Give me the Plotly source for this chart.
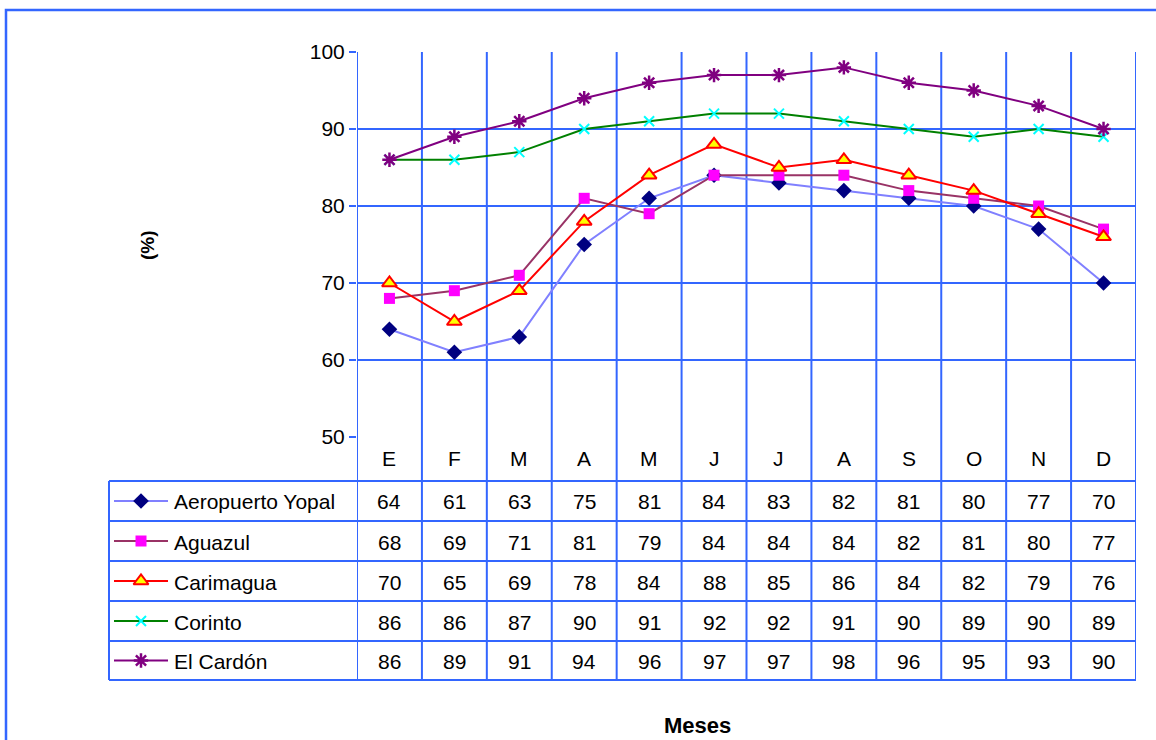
import plotly.graph_objects as go

# Monthly relative humidity (%) by station
months = ["E", "F", "M", "A", "M", "J", "J", "A", "S", "O", "N", "D"]
aeropuerto_yopal = [64, 61, 63, 75, 81, 84, 83, 82, 81, 80, 77, 70]
aguazul = [68, 69, 71, 81, 79, 84, 84, 84, 82, 81, 80, 77]
carimagua = [70, 65, 69, 78, 84, 88, 85, 86, 84, 82, 79, 76]
corinto = [86, 86, 87, 90, 91, 92, 92, 91, 90, 89, 90, 89]
el_cardon = [86, 89, 91, 94, 96, 97, 97, 98, 96, 95, 93, 90]

station_names = ["Aeropuerto Yopal", "Aguazul", "Carimagua", "Corinto", "El Cardón"]
station_values = [aeropuerto_yopal, aguazul, carimagua, corinto, el_cardon]

W, H = 1156, 740
BLUE = "#3366FF"
FONT = "Liberation Sans, Arial, sans-serif"

# layout geometry in pixels
PLOT_L, PLOT_R, PLOT_T, PLOT_B = 357, 1136, 52, 437
TABLE_L = 109
ROW_LINES = [481, 521, 561, 601, 641, 680]


def px(x):
    return x / W


def py(y):
    return 1 - y / H


styles = [
    dict(line=dict(color="#8080FF", width=2),
         marker=dict(symbol="diamond", size=12, color="#000080",
                     line=dict(color="#000080", width=0))),
    dict(line=dict(color="#993366", width=2),
         marker=dict(symbol="square", size=11, color="#FF00FF",
                     line=dict(color="#FF00FF", width=0))),
    dict(line=dict(color="#FF0000", width=2),
         marker=dict(symbol="triangle-up", size=13, color="#FFFF00",
                     line=dict(color="#FF0000", width=2))),
    dict(line=dict(color="#008000", width=2),
         marker=dict(symbol="x-thin-open", size=10, color="#00FFFF",
                     line=dict(color="#00FFFF", width=2))),
    dict(line=dict(color="#800080", width=2),
         marker=dict(symbol="asterisk-open", size=12, color="#800080",
                     line=dict(color="#800080", width=2.5))),
]

fig = go.Figure()

xs = list(range(len(months)))
for name, vals, st in zip(station_names, station_values, styles):
    fig.add_trace(go.Scatter(x=xs, y=vals, mode="lines+markers", name=name,
                             line=st["line"], marker=st["marker"],
                             showlegend=False, xaxis="x", yaxis="y"))

# legend keys inside the data table (pixel overlay axes)
for i, (name, st) in enumerate(zip(station_names, styles)):
    yc = (ROW_LINES[i] + ROW_LINES[i + 1]) / 2
    fig.add_trace(go.Scatter(x=[114, 168], y=[yc, yc], mode="lines",
                             line=st["line"], showlegend=False,
                             hoverinfo="skip", xaxis="x2", yaxis="y2"))
    fig.add_trace(go.Scatter(x=[141], y=[yc], mode="markers",
                             marker=st["marker"], showlegend=False,
                             hoverinfo="skip", xaxis="x2", yaxis="y2"))

shapes = []
# vertical category borders through plot and table
for k in range(len(months) + 1):
    shapes.append(dict(type="line", xref="x", yref="paper", layer="below",
                       x0=k - 0.5, x1=k - 0.5, y0=py(ROW_LINES[-1]), y1=py(PLOT_T),
                       line=dict(color=BLUE, width=2)))
# horizontal table rules
for yl in ROW_LINES:
    shapes.append(dict(type="line", xref="paper", yref="paper", layer="below",
                       x0=px(TABLE_L), x1=px(PLOT_R), y0=py(yl), y1=py(yl),
                       line=dict(color=BLUE, width=2)))
# left edge of table
shapes.append(dict(type="line", xref="paper", yref="paper", layer="below",
                   x0=px(TABLE_L), x1=px(TABLE_L), y0=py(ROW_LINES[0]), y1=py(ROW_LINES[-1]),
                   line=dict(color=BLUE, width=2)))
# chart frame
shapes.append(dict(type="rect", xref="paper", yref="paper", layer="below",
                   x0=px(6), x1=1.02, y0=-0.02, y1=py(10),
                   line=dict(color=BLUE, width=2.5)))

annotations = []
txt = dict(family=FONT, size=21, color="#000000")
for k, m in enumerate(months):
    annotations.append(dict(x=k, y=py(458), xref="x", yref="paper", text=m,
                            showarrow=False, font=txt, xanchor="center", yanchor="middle"))
for i, (name, vals) in enumerate(zip(station_names, station_values)):
    yc = (ROW_LINES[i] + ROW_LINES[i + 1]) / 2
    annotations.append(dict(x=px(172), y=py(yc + 1), xref="paper", yref="paper", text=name,
                            showarrow=False, font=txt, xanchor="left", yanchor="middle"))
    for k, v in enumerate(vals):
        annotations.append(dict(x=k, y=py(yc + 1), xref="x", yref="paper", text=str(v),
                                showarrow=False, font=txt, xanchor="center", yanchor="middle"))

annotations.append(dict(x=px(147), y=py(245), xref="paper", yref="paper", text="<b>(%)</b>",
                        textangle=-90, showarrow=False,
                        font=dict(family=FONT, size=19, color="#000000"),
                        xanchor="center", yanchor="middle"))
annotations.append(dict(x=px(697), y=py(725), xref="paper", yref="paper", text="<b>Meses</b>",
                        showarrow=False,
                        font=dict(family=FONT, size=22, color="#000000"),
                        xanchor="center", yanchor="middle"))

fig.update_layout(
    width=W, height=H,
    margin=dict(l=0, r=0, t=0, b=0, pad=0, autoexpand=False),
    paper_bgcolor="white", plot_bgcolor="rgba(0,0,0,0)",
    xaxis=dict(domain=[px(PLOT_L), px(PLOT_R)], range=[-0.5, len(months) - 0.5],
               showgrid=False, zeroline=False, showticklabels=False, ticks="",
               fixedrange=True, automargin=False),
    yaxis=dict(domain=[py(PLOT_B), py(PLOT_T)], range=[50, 100], dtick=10,
               showgrid=True, gridcolor=BLUE, gridwidth=2, zeroline=False,
               showline=False, ticks="outside", ticklen=7, tickwidth=2, tickcolor=BLUE,
               tickfont=dict(family=FONT, size=21, color="#000000"), fixedrange=True,
               automargin=False),
    xaxis2=dict(domain=[0, 1], range=[0, W], visible=False, fixedrange=True,
                anchor="y2", automargin=False),
    yaxis2=dict(domain=[0, 1], range=[H, 0], visible=False, fixedrange=True,
                anchor="x2", automargin=False),
    shapes=shapes,
    annotations=annotations,
    showlegend=False,
)

fig.write_html("out.html")
